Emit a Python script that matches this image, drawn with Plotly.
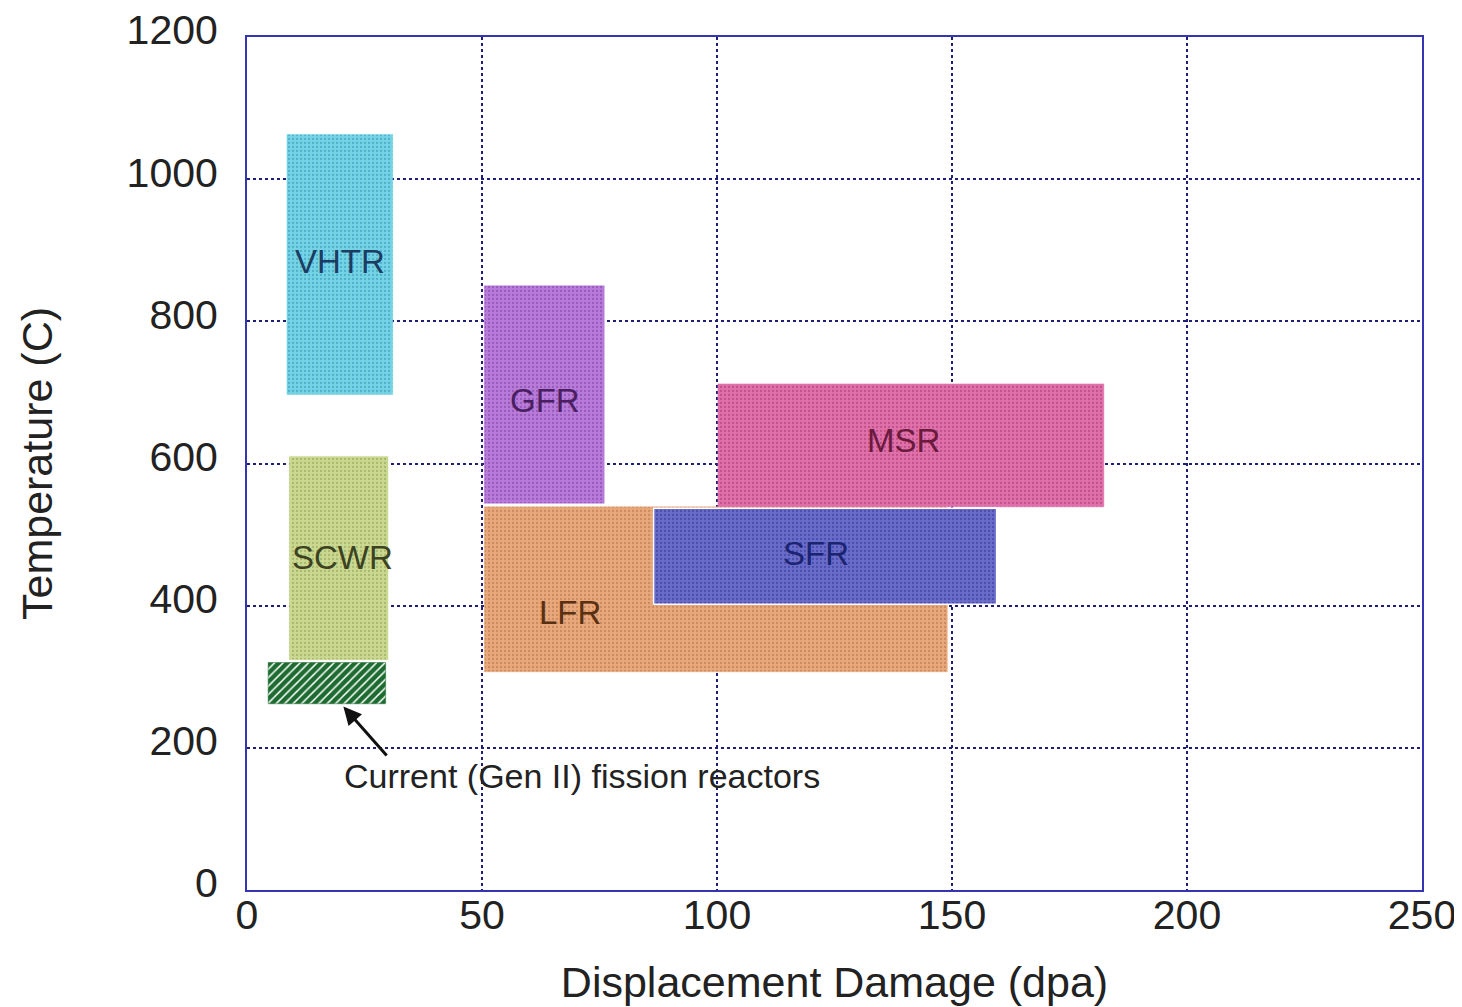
import plotly.graph_objects as go

# Reactor operating windows: displacement damage (dpa) and temperature (C)
names = ["VHTR", "SCWR", "GenII", "GFR", "LFR", "MSR", "SFR"]
x_lo = [8.5, 9.0, 4.5, 50.5, 50.5, 100.2, 86.5]
x_hi = [31.0, 30.0, 29.5, 76.0, 149.0, 182.3, 159.5]
y_lo = [697, 324, 262, 544, 307, 539, 402]
y_hi = [1063, 610, 320, 850, 539, 712, 537]

fill_colors = ["#74d4e6", "#cad98f", "#1d6b30", "#b77bd8", "#e9a87b", "#e070aa", "#6a6cca"]
dot_colors = ["#4fb0cc", "#a9b870", "#ffffff", "#9a58bf", "#c98a5e", "#c0508a", "#4a4cae"]

labels = ["VHTR", "SCWR", "", "GFR", "LFR", "MSR", "SFR"]
label_x = [19.8, 20.4, 0, 63.4, 68.7, 139.6, 121.0]
label_y = [884, 468, 0, 688, 391, 632, 473]
label_colors = ["#1c3c62", "#3c4222", "#000000", "#4a1f62", "#5a3012", "#6a1a3c", "#1a2470"]

x_ticks = [0, 50, 100, 150, 200, 250]
y_ticks = [0, 200, 400, 600, 800, 1000, 1200]

note_text = "Current (Gen II) fission reactors"
note_x, note_y = 71.3, 160
arrow_head = (20.5, 258)
arrow_tail = (30.0, 187)

FONT = "Liberation Sans, Arial, sans-serif"

fig = go.Figure()
for i, n in enumerate(names):
    xs = [x_lo[i], x_hi[i], x_hi[i], x_lo[i], x_lo[i]]
    ys = [y_lo[i], y_lo[i], y_hi[i], y_hi[i], y_lo[i]]
    if n == "GenII":
        pattern = dict(shape="/", fgcolor="#ffffff", bgcolor=fill_colors[i], size=6, solidity=0.25, fillmode="replace")
    else:
        pattern = dict(shape=".", fgcolor=dot_colors[i], bgcolor=fill_colors[i], size=4, solidity=0.25, fillmode="replace")
    fig.add_trace(go.Scatter(
        x=xs, y=ys, mode="lines", fill="toself",
        fillcolor=fill_colors[i],
        fillpattern=pattern,
        line=dict(color="#ffffff" if n == "SFR" else fill_colors[i], width=1.5 if n == "SFR" else 0.5),
        hoverinfo="skip", showlegend=False,
    ))

for i, t in enumerate(labels):
    if not t:
        continue
    fig.add_annotation(x=label_x[i], y=label_y[i], text=t, showarrow=False,
                       font=dict(family=FONT, size=33, color=label_colors[i]))

fig.add_annotation(x=note_x, y=note_y, text=note_text, showarrow=False,
                   font=dict(family=FONT, size=34, color="#222222"))
fig.add_annotation(x=arrow_head[0], y=arrow_head[1], ax=arrow_tail[0], ay=arrow_tail[1],
                   axref="x", ayref="y", xref="x", yref="y", text="",
                   showarrow=True, arrowhead=2, arrowsize=1.2, arrowwidth=3, arrowcolor="#111111")

axis_common = dict(
    showgrid=True, gridcolor="#1e1e78", griddash="dot", gridwidth=1.5,
    showline=True, linecolor="#3434b4", linewidth=2, mirror=True,
    zeroline=False, ticks="", ticklen=0, automargin=False,
    tickfont=dict(family=FONT, size=41, color="#222222"),
)
fig.update_xaxes(range=[0, 250], tickvals=x_ticks, ticklabelstandoff=-12,
                 title=dict(text="Displacement Damage (dpa)", font=dict(family=FONT, size=43, color="#222222"), standoff=30),
                 **axis_common)
fig.update_yaxes(range=[0, 1200], tickvals=y_ticks, ticklabelstandoff=19, ticklabelshift=-7,
                 ticklabeloverflow="allow",
                 title=dict(text="Temperature (C)", font=dict(family=FONT, size=43, color="#222222"), standoff=61),
                 **axis_common)

fig.update_layout(
    width=1462, height=1007,
    margin=dict(l=239, r=48, t=29, b=125),
    plot_bgcolor="#ffffff", paper_bgcolor="#ffffff",
)
fig.write_html("out.html")
